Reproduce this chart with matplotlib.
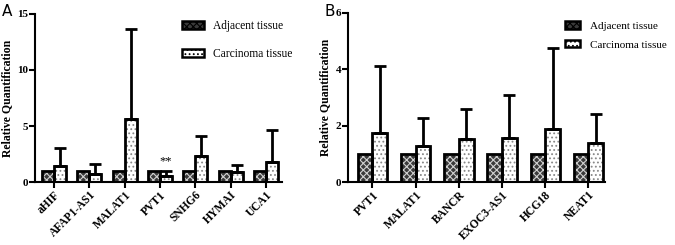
import matplotlib
matplotlib.use("Agg")
import matplotlib.pyplot as plt
import numpy as np
from matplotlib.patches import Patch

genes_a = ["aHIF", "AFAP1-AS1", "MALAT1", "PVT1", "SNHG6", "HYMAI", "UCA1"]
adj_a = [1.0, 1.0, 1.0, 1.0, 1.0, 1.0, 1.0]
carc_a = [1.4, 0.75, 5.6, 0.5, 2.3, 0.9, 1.8]
carc_a_top = [3.0, 1.6, 13.7, 1.0, 4.15, 1.55, 4.6]

genes_b = ["PVT1", "MALAT1", "BANCR", "EXOC3-AS1", "HCG18", "NEAT1"]
adj_b = [1.0, 1.0, 1.0, 1.0, 1.0, 1.0]
carc_b = [1.75, 1.28, 1.54, 1.55, 1.9, 1.4]
carc_b_top = [4.13, 2.28, 2.59, 3.09, 4.77, 2.43]

serif = ["Liberation Serif", "DejaVu Serif"]
plt.rcParams["hatch.linewidth"] = 0.8

fig = plt.figure(figsize=(6.75, 2.45), dpi=100)
axA = fig.add_axes([0.052, 0.257, 0.366, 0.686])
axB = fig.add_axes([0.516, 0.257, 0.380, 0.690])

W = 0.34


def draw(ax, genes, adj, carc, top, ymax, yticks, xlim):
    x = np.arange(len(genes))
    ax.bar(x - W / 2, adj, W, color="#3a3a3a", hatch="xxxxx", edgecolor="#d0d0d0", linewidth=0, zorder=2)
    ax.bar(x + W / 2, carc, W, color="white", hatch="....", edgecolor="#888888", linewidth=0, zorder=2)
    ax.bar(x - W / 2, adj, W, fill=False, edgecolor="black", linewidth=2, zorder=3)
    ax.bar(x + W / 2, carc, W, fill=False, edgecolor="black", linewidth=2, zorder=3)
    up = np.array(top) - np.array(carc)
    ax.errorbar(x + W / 2, carc, yerr=[np.zeros(len(carc)), up], fmt="none",
                ecolor="black", elinewidth=2, capsize=4, capthick=2, zorder=4)
    ax.set_ylim(0, ymax)
    ax.set_xlim(*xlim)
    ax.set_yticks(yticks)
    ax.set_yticklabels([str(t) for t in yticks], fontfamily=serif, fontweight="bold", fontsize=8)
    ax.set_xticks(x)
    ax.set_xticklabels(genes, rotation=45, ha="right", rotation_mode="anchor",
                       fontfamily=serif, fontweight="bold", fontsize=8.3)
    for s in ["top", "right"]:
        ax.spines[s].set_visible(False)
    for s in ["left", "bottom"]:
        ax.spines[s].set_linewidth(1.5)
    ax.tick_params(width=1.5, length=4, pad=1)
    ax.set_ylabel("Relative Quantification", fontfamily=serif, fontweight="bold", fontsize=8.5, labelpad=3)
    handles = [Patch(facecolor="#3a3a3a", hatch="xxxxx", edgecolor="black", linewidth=1.8),
               Patch(facecolor="white", hatch="....", edgecolor="black", linewidth=1.8)]
    return handles


h = draw(axA, genes_a, adj_a, carc_a, carc_a_top, 15, [0, 5, 10, 15], (-0.54, 6.46))
axA.legend(h, ["Adjacent tissue", "Carcinoma tissue"], loc="upper left", bbox_to_anchor=(0.595, 0.965),
           frameon=False, prop={"family": serif, "size": 8.3}, handlelength=1.9, handleheight=0.75,
           labelspacing=1.4, handletextpad=0.8, borderpad=0, borderaxespad=0)
axA.text(3 + W / 2, 1.0 + 0.3, "**", ha="center", va="bottom", fontsize=9, fontfamily=serif)

h = draw(axB, genes_b, adj_b, carc_b, carc_b_top, 6, [0, 2, 4, 6], (-0.56, 5.38))
axB.legend(h, ["Adjacent tissue", "Carcinoma tissue"], loc="upper left", bbox_to_anchor=(0.844, 0.95),
           frameon=False, prop={"family": serif, "size": 8}, handlelength=1.4, handleheight=0.65,
           labelspacing=0.8, handletextpad=0.9, borderpad=0, borderaxespad=0)

fig.text(0.003, 0.985, "A", fontsize=11, fontfamily="DejaVu Sans", va="top", ha="left")
fig.text(0.481, 0.985, "B", fontsize=11, fontfamily="DejaVu Sans", va="top", ha="left")

fig.savefig("out.png", dpi=100)
